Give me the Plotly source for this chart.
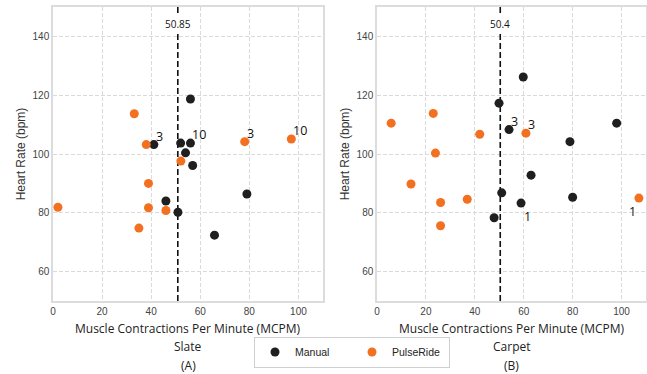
import plotly.graph_objects as go

# ---- data ----
slate_manual_x = [56.0, 41.1, 52.0, 56.0, 54.0, 56.9, 79.0, 46.0, 50.9, 65.8]
slate_manual_y = [118.7, 103.2, 103.7, 103.7, 100.4, 96.1, 86.4, 84.0, 80.2, 72.4]
slate_manual_lbl = ["", "3", "", "10", "", "", "", "", "", ""]

slate_pulse_x = [33.1, 38.0, 78.1, 97.1, 52.1, 38.9, 2.0, 38.9, 46.0, 35.0]
slate_pulse_y = [113.7, 103.2, 104.2, 105.1, 97.6, 90.0, 81.9, 81.7, 80.8, 74.8]
slate_pulse_lbl = ["", "", "3", "10", "", "", "", "", "", ""]

carpet_manual_x = [59.8, 49.9, 54.0, 78.9, 98.0, 63.0, 51.0, 58.9, 80.0, 47.9]
carpet_manual_y = [126.2, 117.3, 108.3, 104.2, 110.5, 92.8, 86.8, 83.3, 85.3, 78.3]
carpet_manual_lbl = ["", "", "3", "", "", "", "", "1", "", ""]

carpet_pulse_x = [5.8, 23.0, 42.0, 60.9, 23.9, 13.9, 26.0, 36.9, 26.0, 107.1]
carpet_pulse_y = [110.5, 113.8, 106.7, 107.1, 100.3, 89.8, 83.5, 84.6, 75.6, 85.0]
carpet_pulse_lbl = ["", "", "", "3", "", "", "", "", "", "1"]

slate_median = 50.85
carpet_median = 50.4

panel_names = ["Slate", "Carpet"]
panel_tags = ["(A)", "(B)"]
x_title = "Muscle Contractions Per Minute (MCPM)"
y_title = "Heart Rate (bpm)"
x_ticks = [0, 20, 40, 60, 80, 100]
y_ticks = [60, 80, 100, 120, 140]

BLACK = "#1f1f1f"
ORANGE = "#f37021"

W, H = 647, 374
ML, MR, MT, MB = 53, 1, 7, 73
PW = W - ML - MR
PH = H - MT - MB

def px_x(p):
    return (p - ML) / PW

dom1 = [0, px_x(323)]
dom2 = [px_x(377), 1]

fig = go.Figure()

panels = [
    ("x", "y", slate_manual_x, slate_manual_y, slate_manual_lbl,
     slate_pulse_x, slate_pulse_y, slate_pulse_lbl, slate_median),
    ("x2", "y2", carpet_manual_x, carpet_manual_y, carpet_manual_lbl,
     carpet_pulse_x, carpet_pulse_y, carpet_pulse_lbl, carpet_median),
]

annotations = []
shapes = []
for i, (xa, ya, mx, my, ml, ox, oy, ol, med) in enumerate(panels):
    fig.add_trace(go.Scatter(x=mx, y=my, mode="markers", name="Manual",
                             marker=dict(color=BLACK, size=9),
                             xaxis=xa, yaxis=ya, showlegend=(i == 0), cliponaxis=False))
    fig.add_trace(go.Scatter(x=ox, y=oy, mode="markers", name="PulseRide",
                             marker=dict(color=ORANGE, size=9),
                             xaxis=xa, yaxis=ya, showlegend=(i == 0), cliponaxis=False))
    # point labels
    for xs, ys, ls in [(mx, my, ml), (ox, oy, ol)]:
        for xv, yv, lv in zip(xs, ys, ls):
            if not lv:
                continue
            if lv == "1":
                if xv > 100:
                    xanc, xsh = "right", -1
                else:
                    xanc, xsh = "left", 1
                yanc, ysh = "top", -3
            else:
                xanc, xsh, yanc, ysh = "left", 0, "bottom", -2
            annotations.append(dict(x=xv, y=yv, xref=xa, yref=ya, text=lv,
                                    showarrow=False, xanchor=xanc, yanchor=yanc,
                                    xshift=xsh, yshift=ysh,
                                    font=dict(family="Open Sans", size=12.5, color="#111")))
    # median line
    shapes.append(dict(type="line", xref=xa, yref=ya, x0=med, x1=med, y0=50, y1=150,
                       line=dict(color="#111", width=1.6, dash="6px,3px"), layer="between"))
    annotations.append(dict(x=med, y=144.2, xref=xa, yref=ya, text=str(med),
                            showarrow=False, bgcolor="white", borderpad=2,
                            font=dict(family="Open Sans", size=10, color="#111")))
    # x titles and panel captions
    xcenter = (dom1 if i == 0 else dom2)
    xc = (xcenter[0] + xcenter[1]) / 2
    for txt, py in [(x_title, 328), (panel_names[i], 346), (panel_tags[i], 365)]:
        annotations.append(dict(x=xc, y=(H - MB - py) / PH, xref="paper", yref="paper",
                                text=txt, showarrow=False, xanchor="center", yanchor="middle",
                                font=dict(family="Open Sans", size=12, color="#222")))

grid_style = dict(showgrid=True, gridcolor="#dadada", griddash="4px,2px", gridwidth=1,
                  showline=True, linecolor="#dcdcdc", linewidth=1.5, mirror=True,
                  zeroline=False, ticks="", automargin=False,
                  tickfont=dict(family="Liberation Sans", size=10, color="#444"))
axis_common = dict(range=[0, 110], tickvals=x_ticks, **grid_style)
yaxis_common = dict(range=[50, 150], tickvals=y_ticks, **grid_style,
                    title=dict(text=y_title, standoff=4,
                               font=dict(family="Liberation Sans", size=12, color="#333")))

fig.update_layout(
    width=W, height=H,
    margin=dict(l=ML, r=MR, t=MT, b=MB, autoexpand=False),
    paper_bgcolor="white", plot_bgcolor="white",
    xaxis=dict(domain=dom1, anchor="y", **axis_common),
    yaxis=dict(domain=[0, 1], anchor="x", **yaxis_common),
    xaxis2=dict(domain=dom2, anchor="y2", **axis_common),
    yaxis2=dict(domain=[0, 1], anchor="x2", **yaxis_common),
    showlegend=True,
    legend=dict(orientation="h", x=px_x(254), xanchor="left",
                y=(H - MB - 352) / PH, yanchor="middle",
                bordercolor="#d0d0d0", borderwidth=1, bgcolor="white",
                entrywidth=52, entrywidthmode="pixels",
                font=dict(family="Liberation Sans", size=10.5, color="#222")),
    annotations=annotations,
    shapes=shapes,
)

fig.write_html("out.html", post_script="document.body.style.margin='0';",
               config={"displayModeBar": False})
